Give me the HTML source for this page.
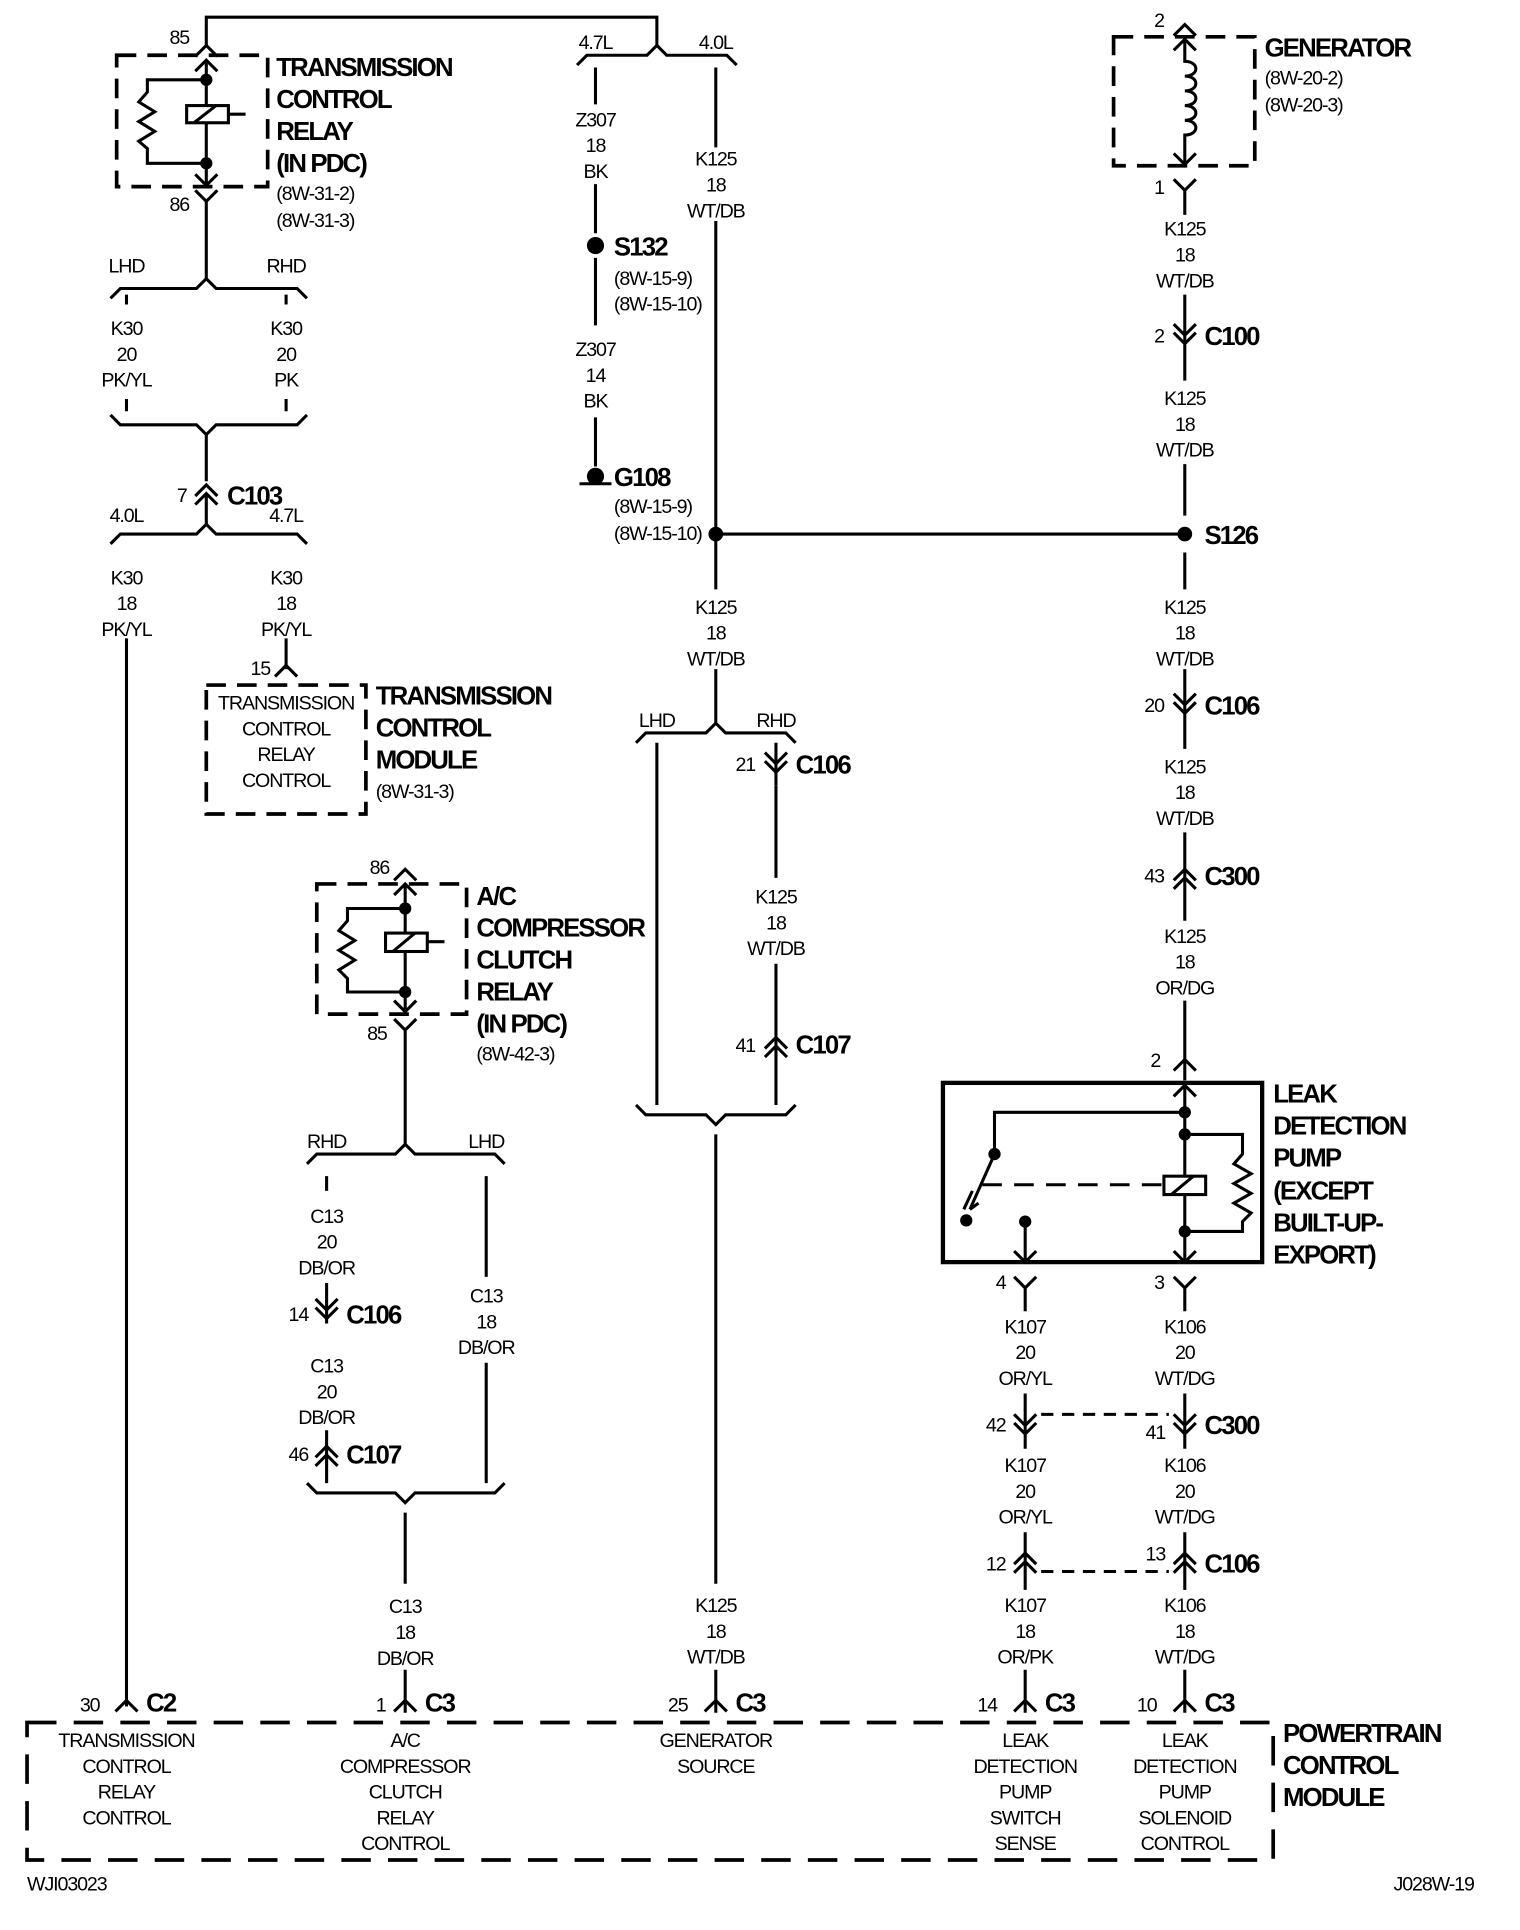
<!DOCTYPE html>
<html><head><meta charset="utf-8"><style>
html,body{margin:0;padding:0;background:#fff}
svg{display:block}
text{font-family:"Liberation Sans Narrow","Liberation Sans",sans-serif;fill:#000}
.s{font-size:16px;text-anchor:middle;letter-spacing:-0.9px}
.l{font-size:16px;letter-spacing:-0.9px}
.b{font-size:21px;font-weight:bold;letter-spacing:-1.5px}
</style></head><body>
<svg width="1520" height="1930" viewBox="0 0 1238 1572" xmlns="http://www.w3.org/2000/svg">
<g fill="none" stroke="#000" stroke-width="2.5">
<path d="M168 38 V14 H535 V37"/>
<path d="M470 53 L478 45 H527 L535 37 L543 45 H592 L600 53"/>
<path d="M485 55 V85 M583 55 V120"/>
<rect x="95" y="45" width="123" height="107" stroke-dasharray="16,9" stroke-width="3"/>
<path d="M159 46 L168 37 L177 46"/>
<path d="M159 58 L168 49 L177 58"/>
<path d="M168 49 V86 M168 100 V150"/>
<rect x="152" y="86" width="34" height="14"/>
<path d="M158 100 L176 86 M186 93 H200"/>
<path d="M168 65 H120 V75 L113 83 L126 91 L113 99 L126 107 L113 115 L120 121 V133 H168"/>
<path d="M159 142 L168 151 L177 142"/>
<path d="M159 155 L168 164 L177 155 M168 164 V228"/>
<path d="M90 243 L98 235 H160 L168 227 L176 235 H242 L250 243"/>
<path d="M103 240 V248 M233 240 V248"/>
<path d="M103 325 V335 M233 325 V335"/>
<path d="M90 338 L98 346 H160 L168 354 L176 346 H242 L250 338"/>
<path d="M168 354 V392"/>
<path d="M159 404 L168 395 L177 404 M159 411 L168 402 L177 411 M168 402 V428"/>
<path d="M90 443 L98 435 H160 L168 427 L176 435 H242 L250 443"/>
<path d="M103 520 V1390 M233 520 V545"/>
<path d="M224 551 L233 542 L242 551"/>
<rect x="168" y="558" width="130" height="105" stroke-dasharray="16,9" stroke-width="3"/>
<rect x="258" y="720" width="122" height="106" stroke-dasharray="16,9" stroke-width="3"/>
<path d="M321 717 L330 708 L339 717 M321 729 L330 720 L339 729"/>
<path d="M330 720 V760 M330 775 V822"/>
<rect x="314" y="760" width="34" height="15"/>
<path d="M320 775 L338 760 M348 767 H362"/>
<path d="M330 740 H283 V750 L276 758 L289 766 L276 774 L289 782 L276 790 L283 797 V808 H330"/>
<path d="M321 815 L330 824 L339 815 M321 830 L330 839 L339 830 M330 839 V932"/>
<path d="M250 948 L258 940 H322 L330 932 L338 940 H403 L411 948"/>
<path d="M266 958 V970 M396 958 V1040 M396 1110 V1208"/>
<path d="M266 1045 V1078 M257 1058 L266 1067 L275 1058 M257 1065 L266 1074 L275 1065"/>
<path d="M266 1165 V1208 M257 1187 L266 1178 L275 1187 M257 1194 L266 1185 L275 1194"/>
<path d="M250 1208 L258 1216 H322 L330 1224 L338 1216 H403 L411 1208"/>
<path d="M330 1232 V1290 M330 1360 V1395 M321 1394 L330 1385 L339 1394"/>
<path d="M94 1394 L103 1385 L112 1394"/>
<path d="M485 150 V190 M485 210 V265 M485 340 V380"/>
<path d="M472 394 H498"/>
<path d="M583 180 V480 M583 435 H965"/>
<path d="M583 545 V590"/>
<path d="M518 605 L526 597 H575 L583 589 L591 597 H640 L648 605"/>
<path d="M535 605 V900"/>
<path d="M632 605 V640 M623 613 L632 622 L641 613 M623 620 L632 629 L641 620"/>
<path d="M632 640 V715 M632 785 V900 M623 854 L632 845 L641 854 M623 861 L632 852 L641 861"/>
<path d="M518 900 L526 908 H575 L583 916 L591 908 H640 L648 900"/>
<path d="M583 924 V1290 M574 1394 L583 1385 L592 1394 M583 1360 V1395"/>
<rect x="907" y="30" width="115" height="105" stroke-dasharray="16,9" stroke-width="3"/>
<path d="M956 29 L965 20 L974 29 M956 41 L965 32 L974 41"/>
<path d="M965 32 V50 C977 50 977 62 965 62 C977 62 977 74 965 74 C977 74 977 86 965 86 C977 86 977 98 965 98 C977 98 977 110 965 110 V134"/>
<path d="M956 125 L965 134 L974 125 M956 146 L965 155 L974 146 M965 155 V175"/>
<path d="M965 240 V310 M956 264 L965 273 L974 264 M956 271 L965 280 L974 271"/>
<path d="M965 378 V420 M965 450 V480 M965 545 V610 M956 565 L965 574 L974 565 M956 572 L965 581 L974 572"/>
<path d="M965 678 V750 M956 717 L965 708 L974 717 M956 724 L965 715 L974 724"/>
<path d="M965 815 V880 M956 872 L965 863 L974 872"/>
<rect x="768" y="882" width="260" height="146" stroke-width="3.5"/>
<path d="M956 893 L965 884 L974 893 M965 884 V958 M965 973 V1028"/>
<rect x="948" y="958" width="34" height="15"/>
<path d="M954 973 L972 958"/>
<path d="M965 906 H810 V940 M965 924 H1012 V940 L1005 948 L1019 956 L1005 964 L1019 972 L1005 980 L1019 988 L1012 995 V1003 H965"/>
<path d="M810 940 L790 985"/>
<path d="M785 985 L792 970 M790 985 L797 980"/>
<path d="M800 965 H948" stroke-dasharray="16,10"/>
<path d="M835 995 V1028 M826 1019 L835 1028 L844 1019 M956 1019 L965 1028 L974 1019"/>
<path d="M826 1040 L835 1049 L844 1040 M835 1049 V1068 M956 1040 L965 1049 L974 1040 M965 1049 V1068"/>
<path d="M835 1135 V1180 M965 1135 V1180 M826 1152 L835 1161 L844 1152 M826 1159 L835 1168 L844 1159 M956 1152 L965 1161 L974 1152 M956 1159 L965 1168 L974 1159"/>
<path d="M848 1152 H952" stroke-dasharray="10,7"/>
<path d="M835 1248 V1295 M965 1248 V1295 M826 1274 L835 1265 L844 1274 M826 1281 L835 1272 L844 1281 M956 1274 L965 1265 L974 1274 M956 1281 L965 1272 L974 1281"/>
<path d="M848 1280 H952" stroke-dasharray="10,7"/>
<path d="M835 1360 V1395 M965 1360 V1395 M826 1394 L835 1385 L844 1394 M956 1394 L965 1385 L974 1394"/>
<path d="M22 1403 H1037 V1515 H22 Z" stroke-dasharray="24,14" stroke-width="3"/>
</g>
<g fill="#000">
<circle cx="168" cy="65" r="5"/><circle cx="168" cy="133" r="5"/>
<circle cx="330" cy="740" r="5"/><circle cx="330" cy="808" r="5"/>
<circle cx="485" cy="200" r="7"/><circle cx="485" cy="388" r="7"/>
<circle cx="583" cy="435" r="6"/><circle cx="965" cy="435" r="6"/>
<circle cx="965" cy="906" r="5"/><circle cx="965" cy="924" r="5"/><circle cx="965" cy="1003" r="5"/>
<circle cx="810" cy="940" r="5"/><circle cx="787" cy="994" r="5"/><circle cx="835" cy="995" r="5"/>
</g>
<g>
<text class="s" x="146" y="36">85</text>
<text class="s" x="146" y="172">86</text>
<text class="b" x="225" y="62">TRANSMISSION</text>
<text class="b" x="225" y="88">CONTROL</text>
<text class="b" x="225" y="114">RELAY</text>
<text class="b" x="225" y="140">(IN PDC)</text>
<text class="l" x="225" y="163">(8W-31-2)</text>
<text class="l" x="225" y="185">(8W-31-3)</text>
<text class="s" x="103" y="222">LHD</text><text class="s" x="233" y="222">RHD</text>
<text class="s" x="103" y="273">K30</text><text class="s" x="103" y="294">20</text><text class="s" x="103" y="315">PK/YL</text>
<text class="s" x="233" y="273">K30</text><text class="s" x="233" y="294">20</text><text class="s" x="233" y="315">PK</text>
<text class="s" x="148" y="409">7</text><text class="b" x="185" y="411">C103</text>
<text class="s" x="103" y="425">4.0L</text><text class="s" x="233" y="425">4.7L</text>
<text class="s" x="103" y="476">K30</text><text class="s" x="103" y="497">18</text><text class="s" x="103" y="518">PK/YL</text>
<text class="s" x="233" y="476">K30</text><text class="s" x="233" y="497">18</text><text class="s" x="233" y="518">PK/YL</text>
<text class="s" x="212" y="550">15</text>
<text class="s" x="233" y="578">TRANSMISSION</text><text class="s" x="233" y="599">CONTROL</text><text class="s" x="233" y="620">RELAY</text><text class="s" x="233" y="641">CONTROL</text>
<text class="b" x="306" y="574">TRANSMISSION</text>
<text class="b" x="306" y="600">CONTROL</text>
<text class="b" x="306" y="626">MODULE</text>
<text class="l" x="306" y="650">(8W-31-3)</text>
<text class="s" x="309" y="712">86</text>
<text class="s" x="307" y="847">85</text>
<text class="b" x="388" y="737">A/C</text>
<text class="b" x="388" y="763">COMPRESSOR</text>
<text class="b" x="388" y="789">CLUTCH</text>
<text class="b" x="388" y="815">RELAY</text>
<text class="b" x="388" y="841">(IN PDC)</text>
<text class="l" x="388" y="864">(8W-42-3)</text>
<text class="s" x="266" y="935">RHD</text><text class="s" x="396" y="935">LHD</text>
<text class="s" x="266" y="996">C13</text><text class="s" x="266" y="1017">20</text><text class="s" x="266" y="1038">DB/OR</text>
<text class="s" x="396" y="1061">C13</text><text class="s" x="396" y="1082">18</text><text class="s" x="396" y="1103">DB/OR</text>
<text class="s" x="243" y="1076">14</text><text class="b" x="282" y="1078">C106</text>
<text class="s" x="266" y="1118">C13</text><text class="s" x="266" y="1139">20</text><text class="s" x="266" y="1160">DB/OR</text>
<text class="s" x="243" y="1190">46</text><text class="b" x="282" y="1192">C107</text>
<text class="s" x="330" y="1314">C13</text><text class="s" x="330" y="1335">18</text><text class="s" x="330" y="1356">DB/OR</text>
<text class="s" x="485" y="40">4.7L</text><text class="s" x="583" y="40">4.0L</text>
<text class="s" x="485" y="103">Z307</text><text class="s" x="485" y="124">18</text><text class="s" x="485" y="145">BK</text>
<text class="b" x="500" y="208">S132</text>
<text class="l" x="500" y="232">(8W-15-9)</text><text class="l" x="500" y="253">(8W-15-10)</text>
<text class="s" x="485" y="290">Z307</text><text class="s" x="485" y="311">14</text><text class="s" x="485" y="332">BK</text>
<text class="b" x="500" y="396">G108</text>
<text class="l" x="500" y="418">(8W-15-9)</text><text class="l" x="500" y="440">(8W-15-10)</text>
<text class="s" x="583" y="135">K125</text><text class="s" x="583" y="156">18</text><text class="s" x="583" y="177">WT/DB</text>
<text class="s" x="583" y="500">K125</text><text class="s" x="583" y="521">18</text><text class="s" x="583" y="542">WT/DB</text>
<text class="s" x="535" y="592">LHD</text><text class="s" x="632" y="592">RHD</text>
<text class="s" x="607" y="628">21</text><text class="b" x="648" y="630">C106</text>
<text class="s" x="632" y="736">K125</text><text class="s" x="632" y="757">18</text><text class="s" x="632" y="778">WT/DB</text>
<text class="s" x="607" y="857">41</text><text class="b" x="648" y="858">C107</text>
<text class="s" x="583" y="1313">K125</text><text class="s" x="583" y="1334">18</text><text class="s" x="583" y="1355">WT/DB</text>
<text class="s" x="944" y="22">2</text>
<text class="s" x="944" y="158">1</text>
<text class="b" x="1030" y="46">GENERATOR</text>
<text class="l" x="1030" y="69">(8W-20-2)</text><text class="l" x="1030" y="91">(8W-20-3)</text>
<text class="s" x="965" y="192">K125</text><text class="s" x="965" y="213">18</text><text class="s" x="965" y="234">WT/DB</text>
<text class="s" x="944" y="279">2</text><text class="b" x="981" y="281">C100</text>
<text class="s" x="965" y="330">K125</text><text class="s" x="965" y="351">18</text><text class="s" x="965" y="372">WT/DB</text>
<text class="b" x="981" y="443">S126</text>
<text class="s" x="965" y="500">K125</text><text class="s" x="965" y="521">18</text><text class="s" x="965" y="542">WT/DB</text>
<text class="s" x="940" y="580">20</text><text class="b" x="981" y="582">C106</text>
<text class="s" x="965" y="630">K125</text><text class="s" x="965" y="651">18</text><text class="s" x="965" y="672">WT/DB</text>
<text class="s" x="940" y="719">43</text><text class="b" x="981" y="721">C300</text>
<text class="s" x="965" y="768">K125</text><text class="s" x="965" y="789">18</text><text class="s" x="965" y="810">OR/DG</text>
<text class="s" x="941" y="869">2</text>
<text class="b" x="1037" y="898">LEAK</text>
<text class="b" x="1037" y="924">DETECTION</text>
<text class="b" x="1037" y="950">PUMP</text>
<text class="b" x="1037" y="977">(EXCEPT</text>
<text class="b" x="1037" y="1003">BUILT-UP-</text>
<text class="b" x="1037" y="1029">EXPORT)</text>
<text class="s" x="815" y="1050">4</text><text class="s" x="944" y="1050">3</text>
<text class="s" x="835" y="1086">K107</text><text class="s" x="835" y="1107">20</text><text class="s" x="835" y="1128">OR/YL</text>
<text class="s" x="965" y="1086">K106</text><text class="s" x="965" y="1107">20</text><text class="s" x="965" y="1128">WT/DG</text>
<text class="s" x="811" y="1166">42</text><text class="s" x="941" y="1172">41</text><text class="b" x="981" y="1168">C300</text>
<text class="s" x="835" y="1199">K107</text><text class="s" x="835" y="1220">20</text><text class="s" x="835" y="1241">OR/YL</text>
<text class="s" x="965" y="1199">K106</text><text class="s" x="965" y="1220">20</text><text class="s" x="965" y="1241">WT/DG</text>
<text class="s" x="811" y="1279">12</text><text class="s" x="941" y="1271">13</text><text class="b" x="981" y="1281">C106</text>
<text class="s" x="835" y="1313">K107</text><text class="s" x="835" y="1334">18</text><text class="s" x="835" y="1355">OR/PK</text>
<text class="s" x="965" y="1313">K106</text><text class="s" x="965" y="1334">18</text><text class="s" x="965" y="1355">WT/DG</text>
<text class="s" x="73" y="1394">30</text><text class="b" x="119" y="1394">C2</text>
<text class="s" x="310" y="1394">1</text><text class="b" x="346" y="1394">C3</text>
<text class="s" x="552" y="1394">25</text><text class="b" x="599" y="1394">C3</text>
<text class="s" x="804" y="1394">14</text><text class="b" x="851" y="1394">C3</text>
<text class="s" x="934" y="1394">10</text><text class="b" x="981" y="1394">C3</text>
<text class="s" x="103" y="1423">TRANSMISSION</text><text class="s" x="103" y="1444">CONTROL</text><text class="s" x="103" y="1465">RELAY</text><text class="s" x="103" y="1486">CONTROL</text>
<text class="s" x="330" y="1423">A/C</text><text class="s" x="330" y="1444">COMPRESSOR</text><text class="s" x="330" y="1465">CLUTCH</text><text class="s" x="330" y="1486">RELAY</text><text class="s" x="330" y="1507">CONTROL</text>
<text class="s" x="583" y="1423">GENERATOR</text><text class="s" x="583" y="1444">SOURCE</text>
<text class="s" x="835" y="1423">LEAK</text><text class="s" x="835" y="1444">DETECTION</text><text class="s" x="835" y="1465">PUMP</text><text class="s" x="835" y="1486">SWITCH</text><text class="s" x="835" y="1507">SENSE</text>
<text class="s" x="965" y="1423">LEAK</text><text class="s" x="965" y="1444">DETECTION</text><text class="s" x="965" y="1465">PUMP</text><text class="s" x="965" y="1486">SOLENOID</text><text class="s" x="965" y="1507">CONTROL</text>
<text class="b" x="1045" y="1419">POWERTRAIN</text>
<text class="b" x="1045" y="1445">CONTROL</text>
<text class="b" x="1045" y="1471">MODULE</text>
<text class="l" x="22" y="1540">WJI03023</text>
<text class="l" x="1135" y="1540">J028W-19</text>
</g>
</svg>
</body></html>
